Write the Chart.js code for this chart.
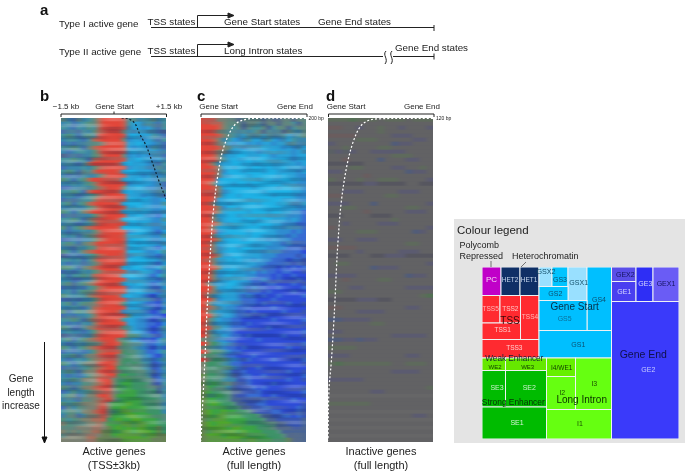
<!DOCTYPE html>
<html>
<head>
<meta charset="utf-8">
<title>Chromatin states</title>
<script src="https://cdn.jsdelivr.net/npm/chart.js@4"></script>
<style>
html, body { margin: 0; padding: 0; background: #fff; }
body { position: relative; width: 685px; height: 471px; overflow: hidden; font-family: "Liberation Sans", Arial, sans-serif; color: #222; }
canvas, svg { position: absolute; }
.heat { filter: url(#streak); }
.fine { filter: url(#fineStreak); }
.t { position: absolute; white-space: nowrap; line-height: 1; }
#box { position: absolute; left: 454px; top: 219px; width: 231px; height: 224px; background: #e4e4e4; }
</style>
</head>
<body>
<svg width="0" height="0" style="left:0;top:0">
  <filter id="streak" x="0" y="0" width="100%" height="100%" color-interpolation-filters="sRGB">
    <feGaussianBlur in="SourceGraphic" stdDeviation="2.2 0.4" result="soft" />
    <feMerge>
      <feMergeNode in="SourceGraphic" />
      <feMergeNode in="soft" />
    </feMerge>
  </filter>
  <filter id="fineStreak" x="0" y="0" width="100%" height="100%" color-interpolation-filters="sRGB">
    <feGaussianBlur in="SourceGraphic" stdDeviation="7 0.3" />
  </filter>
</svg>
<div id="box"></div>
<canvas id="heatB" class="heat" width="105" height="324" style="left:61px;top:118px"></canvas>
<canvas id="heatC" class="heat" width="105" height="324" style="left:201px;top:118px"></canvas>
<canvas id="heatD" class="heat" width="105" height="324" style="left:328px;top:118px"></canvas>
<canvas id="streakB" class="fine" width="105" height="324" style="left:61px;top:118px"></canvas>
<canvas id="streakC" class="fine" width="105" height="324" style="left:201px;top:118px"></canvas>
<canvas id="curveB" width="105" height="324" style="left:61px;top:118px"></canvas>
<canvas id="curveC" width="105" height="324" style="left:201px;top:118px"></canvas>
<canvas id="curveD" width="105" height="324" style="left:328px;top:118px"></canvas>
<canvas id="legendMap" width="197" height="172" style="left:482px;top:267px"></canvas>
<svg width="685" height="471" style="left:0;top:0" fill="none" stroke="#222" stroke-width="1">
  <path d="M151 27.5H434M434 25V31M197.5 27.5V15.5H228" />
  <path d="M228 13L234 15.5L228 18Z" fill="#222" />
  <path d="M151 56.5H383M393 56.5H434M434 53.5V59.5M197.5 56.5V44.5H228" />
  <path d="M228 42L234 44.5L228 47Z" fill="#222" />
  <path d="M386 51C382 55 389 59 385 64M392 51C388 55 395 59 391 64" />
  <path d="M61 117V114H166.5V117M114 114V111.5" />
  <path d="M201 117V114H307V117" />
  <path d="M328.5 117V114H434V117" />
  <path d="M44.5 342V438" stroke="#111" />
  <path d="M42 437H47L44.5 443Z" fill="#111" stroke="#111" />
  <path d="M491 261V267M526 262L521 267" stroke="#444" stroke-width="0.7" />
</svg>
<script>
// state letters used by the heatmap rows
var stateColours = {
    A: '#3a86ac', B: '#46939f', C: '#54917f', D: '#5f8a80', E: '#4472b4', L: '#486496',
    R: '#e2463a', S: '#cf5a4a', T: '#a8705c', U: '#7f8470',
    F: '#1eb2e6', G: '#28a2d8', H: '#2f8cd0', I: '#386cd2', J: '#2e4cd8', K: '#3856b4',
    M: '#3c9468', N: '#3aa444', O: '#4fa62c', P: '#66864c',
    a: '#626264', b: '#5b5b70', c: '#5e6a5c', d: '#6a5d5e', e: '#56565f', f: '#666667', g: '#505c7a', h: '#527054', i: '#5a6064',
    // fine streak layer: darker, lighter, duller, none
    x: 'rgba(10,20,60,0.22)', o: 'rgba(255,255,255,0.2)', z: 'rgba(110,120,120,0.34)', '.': 'rgba(0,0,0,0)'
};

// b: active genes, TSS +-3kb
var rowsB = [
"DAEDABDTRRRRSBDABBDAB","ABEABCDTRRRRSBGGABAEB","BAEBACBTRRRRSAGGHGAEB","EAAEBACTSRRRUGHGGAAEL","BCBEBCBSRRRRSGFGGGBAE",
"ABBAEBTSRRRRUHGGHGAEB","EAEAABCDTRRRSGGFGGHAE","BBCBEDTSRRRRSGHGGHBAE","AEABBACTRRRRSGFGGGGHA","LEAEAACUSRRRUHGHGHAAE",
"BBCBBETSRRRRSGGFGGHGA","ABAEBTRRRRRSGFGGGHAEB","EAAABACTSRRRSHGGGHHBA","BCBEDBTRRRRSGFFGGGHAB","AEAEBAADTRRRSGGGHGAHA",
"CBEBCTRRRRRSGFGFGGHAB","AABABCUSRRRRSHGGGGHAE","EEAABACTSRRRUGGFGHHAE","BBCBETRRRRRSGFGGGGHAB","ABAEABCTSRRRSGGGHGHAE",
"EAEABBUSRRRRSFFGFGHHG","BCEBCTSRRRRSGFFFGGHHB","AABAACUSRRRRSFGFGGHHG","CBEBUTRRRRRSGFFGFGHHA","EAEAAACTSRRRSGGFGHHIG",
"BBCBEDTSRRRSFFFGGGHHB","ABAEABUSRRRRSGFGFGHHG","CEBCUTSRRRRSFFFFGGHHA","AEAABACTRRRRSHGFFGHIG","BABEBCUSRRRRSFFFGGHHB",
"EEAEAACTSRRRSGFFFGHHG","BCBEDUTRRRRRSFFGFGGHA","AAEBACDSRRRRSGFFGGHIG","CBEBUTSRRRRRSFFFGHHGB","LEAEABCTSRRRSHGFGHHIA",
"BBABEBUSRRRRSFFFFGGHA","AEAAEACTRRRRSGGFFGHIG","CCBEDUTSRRRSFGFFGHHGB","EAEABACUSRRRSGHGFGHIA","BEBBCBTSRRRSGFFGGHIGB",
"AAEEAAUSRRRRSGGGGHHIA","BCEBCUTRRRRSGFGFGHIHA","EAEAEBCTSRRRSHGGGHIIG","ABEBCDUSRRRRSGGFGHHIA","CBABBUTSRRRSGFGGHIJHA",
"EEAEAACTRRRRSHGGGHIJH","BCEBCDUSRRRSCGFGHIIJA","AABAEBTSRRRRSGGGHHIJH","CEBCBUTRRRRSHGGGHIJIB","EAEAABUSRRRRSCGGHHIIJ",
"BBCBEDTSRRRSBGGHHIJIA","AEAEBAUSRRRRSGGHHIIJH","CBEEBUTRRRRSCBGHHIJIB","ABAAEACTSRRRSBGGHIJIA","LEAEAAUSRRRRSCCBHHIJH",
"BCEBCUTSRRRUCBGHIIJHB","AEABACDUSRRSMCBBHIIHA","CBEBCUTSRRRUCCBAHIJHI","EAEAEACTSRRSMCCBAIIHB","BBCEBUUSRRRUCMCBAHIJA",
"AEABACUTSRRUMMCCAAIHB","CBEBDUUSRRSUMCMCBAKIA","EAEABCUTSRRMMMCCBAKIB","BCBEDUUSRRSUMMMCCALIA","AEAEACUTSRRMNMMCCBKIB",
"BBCBUUUSRRUMMNMMCCLIA","AEAACDUTSRUMNNMMMCLKB","CBEBUUTSRRUNMNMMMCCLA","EACABCUTSRUMNNNMMCMLB","BCDEBUUSRSUNNNNMMMCCA",
"ABAECDUTSRUMNNNNMMMCB","CBCDUUUTSUNNNONNMMMCA","EDACDUUSRUNNONNNNMMCB","BCDBUUTSRUMNOONNNMMMA","ACDEBUUTSUNNNOONNNMMC",
"CBCDUUTTSMNONNOONNNMC","UCDDDUUTUNNNOONOONNMM","DCDUUUTTUPNONONOONNPM","UDUDUUTTPPNNOONOOONPM","DUUUUTTUPPNOOOOONOOPP",
"UUUUUTTPPPPPOOOOOOPPP"
];

// c: active genes, full length
var rowsC = [
"RRRUUDDLDDDDLDLLDDLDD","RRSSUDDDLDDBLDDLDDBLD","RRRSUDBDLDBBDLBDDLBDD","RRSUDBBABABDLBABLDBAD","RRRSUDBAGBABGBAABGABD",
"RRSUABGHABGGABGHAGBAA","RRSUDGHGGHGHGGHGGABHA","RRRSUDGGHGGGFGGGHGHAG","RRSUUAGGFGGHGGFGGGHGA","RRSUAGGFFGGGFGHGGGHGG",
"RRRUBGFGGFGFFGGGFGHGG","RSUAGGFFGFGGFFGGGGGHG","RRSUGFGFFGFFGFGGFGGGH","RRRUHFFFGFFFGFFGGGGHG","RRSUGGFFFGFFFFFGFGGHH",
"RRSGFFFFFFFGFFGGFFGGH","RSUGFFGFFGFFFFFFGGGHH","RRSUGFFFFFGFFFFGFFGGH","RRRUHGFFFFFFGFFFFFGGH","RRSUGFFGFFFFFFGFFFGHH",
"RRSGGFFFFGFFFFFFGGGHH","RSUGFGFFFFFGFFFGFGHHG","RRSUHFFGFFFFFFFFGGGHH","RRSUGFFFFGFFFGFFGGHHI","RRUGGFFGFFFFFGGGGHHHI",
"RRUAGFFFGFFGFFGGGHGHI","RRSUGGFFFFGFFFGGHHHII","RSUGFFGFFFFFGFGGHGHHI","RRSHGFFFFGFFFGGHHHIHI","RRUGFGFFFGFFGGGHHIHII",
"RRSUGFFFGFFGGHGHHHIII","RSUGGFFFFFGGGGHHIHIII","RRUHGFFGFFGGGHHHHIIIK","RRUAGFFFFGGGHGHHIIIIJ","RRSUGGFFGGGGHHHIIIIKI",
"RSUGGFGFGGHGHHIIIJIIK","RRUAGFFFGGGHHIIIIIJIK","RRSUGGFGGGHHIIIJIJIJI","RRUGGFFGGHGIHIIJIIJJK","RSUHGFGGGHHIIIJIJJIJJ",
"RRUAGGFGGHIIHIJIJJJIJ","RUAGGFFGHHIIJIIJJJIJK","RRUGGFGGHIHIIJJIJJJJI","RSUAGGGHHIIIJIJJJJIJJ","RUAGFGGHIHIJIJJIJJJJI",
"RRUHGGGHIIIJJJIJJJJJJ","RUAGGGHHIIIJIJJJJIJJK","RSUAGHHIIIJJJJIJJJJJJ","RUBGGGHIIJIJJJJJIJJJK","RRDAGGHIIIJJIJJJJJJJJ",
"RUBGHHIIJJJJJJIJJJJJI","RUAGGHIIJIJJJJJJJJJJK","RRDBGHIIIJJJJIJJJJJJJ","RUAGHHIJJJJJJJJJJJJJI","RUBAGHIIJIJJJJJJIJJJK",
"UDBHHIIJJJJIJJJJJJJJJ","RUMBGHIJJJJJJJJJJJJJI","UCBAHIIJIJJJJJJJJIJJK","RUMCBHIIJJJJJJJJJJJJJ","UMCBAIIJJJIJJJJJJJJJK",
"RUMMCAHIKIJJJJIJJJJJI","UMMCBAIIJJJJJJJJJJJJK","UMCMCCAIKJJIJJJJJJJJJ","UMMCBAKKIJJJJJJJJIJJK","PMMCCALKIIJJIJJJJJJJI",
"UMCCBAAKKIJJJJJJJIJJK","PMNMCCLKKIJJJJIJJJJJJ","UNMCCALKKKIJIJJJJJJJK","PNMMCCLLKKKIJJJJJJJJI","PMMNMCLKKIIIJJIJJJJJK",
"PNNMMCLLKKKKIJJJJJIJJ","PNONMMCLLKKIIJJJJJJJK","PNNNNMMCLLKKIIJJJJJIK","PONNONNMMCLKKKIIJJJIK","PONOONNNMMMCLLKKIIJIK",
"PNOOONNNNMMMCLLKKKKKL","PONOOONNNMMMMCCLLKKKL","POOOONOONNNMMMCLLLKKL","PNOOOOONONNNMMMCLLLLL","POOONOOOONNNNMMMCLLLL",
"POOOOOOONOONNNMMMPLLL"
];

// d: inactive genes, full length
var rowsD = [
"ccchcccacccaccc","aaaaaaaaaaaaaaa","ddaabaacaabaaab","aaaaaaacaaaaaaa","ddddaaaaabbbaaa","aaaacccaaaaabba",
"baaaaaaaagbbaaa","aacaaaaccaaaaaa","ibibaabbbbbaaaa","aaaaaaaaacccaaa","aadaaaagaaabbaa","eeeeeaaaaaaaaaa",
"aaaccaaaabbaaca","bbaaaaaaaaagbba","aaaaadaaaaaaaaa","caaacaacccaaaab","eeeeebbeeeeaaee","aaaaaaaaaaaaaaa",
"aabbbaaaaabbbaa","ddaaaaaaccaaaaa","aaaaaaaaaaaaaaa","bbbaaagaaaaaaab","aaccaaaaaaaccaa","aaaaadaaaaabbba",
"eeaaaaeeeaaaaaa","aaaaaaaaacaaaaa","aabaaaabbbaaaaa","daaaaaaaaaaaaab","aaaacccaaaaagba","aaaaaaaaaaaaaaa",
"bbaabbbaaaaaaaa","aaaaaaaaaaaccaa","ddddaaaaaaaaaaa","aaaabaaaaabbbaa","eeeaaaeebbbeeee","aaaaaaaaaaaaaaa",
"accaaaaaaaaaaab","aaaaaagbbbaaaaa","aaaaaaaaaaaaaaa","bbbbaaaaaaagbba","aadaaaaccaaaaaa","aaaaaaaaaaaaaaa",
"aaabbaaaaaabbbb","ccaaaaaaaaaaaaa","aaaaaaaaaaaaach","eeeebbbeeaaaaaa","aaaaaaaaaaaaaaa","ddaaaaaaaaabbaa",
"aaaabbbbaaaaaaa","aaaaaaaaaaaaaaa","ggbbbbaaaaaaaaa","aaaaaaccaaaaaaa","aaaaaaaaaaaaaaa","bbaaaaaaaaaaaaa",
"aaaaaaaaabbbbba","ggbbgbbaaaaaaaa","aaaaaaaaaaaaaaa","ccccaaaaaaaaaaa","aaaaaaaaaaaaaaa","bbbaaaaaaaabbaa",
"aaaaaaaaaaaaaaa","chcccccccaaccca","aaaaaaaaaaaaaaa","aaaaaaaaabbbbaa","aaaaaaaaaaaaaaa","bbbbbaaaaaaaaaa",
"aaaaaaaaaaaaaaa","aaaaaaaaaaaaaac","aaaaaabbaaaaaaa","fffffffffffffff","aaaaaaaaaaaaaaa","ccccccaaaaaaaaa",
"aaaaaaaaaaaaaaa","fffffffffffffff","aaaaaaaaaaaabba","fffffffffffffff","aaaaaaaaaaaaaaa","fffffffffffffff",
"aaaaaaaaaaaaaaa","fffffffffffffff","aaaaaaaaaaaaaaa"
];

// finer streaks laid over b and c
var streakRowsB = [
"x.o.x",".....","oo..z","..x..","z.xzx",".o...","xx.xo",".....",".zo..","x...x","o.oo.","..xxz",
"z....",".xz.o","o...x","xxx..","..o.z",".....","xz.xx","o.o..","..z.o","x.xx.",".....","oz.oo",
"..x.z","xx..x",".oo..","z.zx.",".....","x.x.o","oo.z.","..xxx","z...o",".x.o.","o.z..","xx.xz",
".....","..oo.","xz..x",".x.z.","oo..o","...xx","z.z..","x.oxo",".....","o..z.","xxz.x","..o..",
".z.xx","o.x.o",".....","x.zz.","..oo.","xx..x",".o.z.","z.x.o","x...x","..ooz",".xz..","o...x",
"xx.zz","..o..",".z.xo","x...x","oo.z.","..xx.","z.o.o",".x..x",".....","ozx..","x.z.x","..oo.",
"zx..z","o..x.",".z.oo","xx.z.","..x.x","o.z..",".....","xzxo.","..z.x","oo...",".x.zx","z..o.",
"x.xz.",".o..x","..zz.","xo.xo",".....","z.x.z","x.o..",".xz.x","o...o","zz.x.","..x.z","x.o.x",
".z..o","o.xz.","..x..","zx.oz",".....","x.zxo",".o.z.","zz..x","..xo.","xz.zx","o.z.z","zzxzz"
];
var streakRowsC = [
"zzxzz","z.zz.","..x.z",".....","xz.zx","..zzo","z.xx.",".....","xo..z",".zz.x","..o..","xx.z.",
".....","o.o.x","x..z.","..xx.",".o..o","z.x.x",".....","xo.o.","..z.x","o..x.",".xx.z","...oo",
"z.o..","x..xx",".....",".oz.o","xx..z","..o.x",".z.x.","o...o","x.zz.",".....","..xo.","oz..x",
".x.xz","o.o..",".....","xz.x.","..oo.","x...z",".ox.x","z...o","..xz.","xo...",".....","z.o.x",
".x..z","oo.x.","..z.o","xx...",".....",".zo.x","x..zz","o.x..","..oo.",".xz.x","z...o","x.x..",
".....","oz.z.","..x.x","z.oo.",".x...","o.zxz","..x.o",".....","xx.o.","z..xz",".oz..","x...o",
"..xx.","zo..x",".....",".z.oz","x.x..","o..zx",".xo..","z...z","xx.ox",".....","..z.o","ox.x.",
"z..z.",".x..x","o.oz.",".....","xz.x.","..o.o","zx..z",".o.x.","x...x","..zz.","o.x.o",".....",
"zx.z.","..o.x",".z..z","xo.x.","z....","..xzo",".z.x.","x..zz","zo...",".xz.z","z.x.z","zzzzz"
];

// gene length curves, x as % of panel width, y as % of panel height
var curveBX = [57.7, 64, 70.2, 75, 81.2, 87.5, 93.7, 100];
var curveBY = [0, 0.2, 1.6, 5, 8.6, 14.2, 19.8, 25];
var curveCX = [100, 52.7, 43.2, 33.8, 27.4, 21.1, 16.4, 11.7, 8.5, 7.6, 5.4, 3.8, 1.6, 0];
var curveCY = [0.1, 0.1, 0.4, 1.6, 4.5, 9.6, 16.8, 29, 43.4, 48.5, 61.8, 74, 88.3, 99.5];
var curveDX = [100, 45.7, 36.3, 30, 23.7, 18, 12.6, 9.5, 7.9, 6.9, 5.4, 3.2, 0.9, 0];
var curveDY = [0.1, 0.3, 1.1, 3, 7.6, 14.7, 26, 38.2, 47.4, 54.6, 63.8, 75, 84.2, 99.5];

// colour legend treemap cells
var cellNames  = ['PC','HET2','HET1','TSS5','TSS2','TSS4','TSS1','TSS3','GSX2','GS3','GSX1','GS2','GS4','GS5','GS1','GEX2','GE1','GE3','GEX1','GE2','WE2','WE3','I4/WE1','I3','I2','I1','SE3','SE2','SE1'];
var cellLeft   = [0,19,38,0,18,38.5,0,0,57,70,86,57,105,57,57,129.5,129.5,154,171,129.5,0,23.5,64.5,93.5,64.5,64.5,0,23.5,0];
var cellRight  = [19,38,57,18,38.5,57,38.5,57,70,86,105,86,129.5,105,129.5,154,154,171,197,197,23.5,64.5,93.5,129.5,93.5,129.5,23.5,64.5,64.5];
var cellTop    = [0,0,0,28.5,28.5,28.5,56,72.5,0,0,0,19.5,0,33.5,63.5,0,14.5,0,0,34.5,91,91,91,91,109.5,142.5,103.5,103.5,140];
var cellBottom = [28.5,28.5,28.5,56,56,72.5,72.5,91,19.5,19.5,33.5,33.5,63.5,63.5,91,14.5,34.5,34.5,34.5,172,103.5,103.5,109.5,142.5,142.5,172,140,140,172];
var cellColours = ['#c000c8','#0f2f66','#0f2f66','#ff2a30','#ff2a30','#ff2a30','#ff2a30','#ff2a30','#99e0ff','#00c4ff','#99e0ff','#00c4ff','#00bfff','#00bfff','#00bfff','#5a4ee8','#4a3ff0','#2e2ef5','#6a5cf5','#3a3afa','#66e800','#66e800','#66f000','#66ff11','#66ff11','#66ff11','#00bb00','#00bb00','#00bb00'];

Chart.defaults.animation = false;
Chart.defaults.responsive = false;
Chart.defaults.devicePixelRatio = 1;
Chart.defaults.plugins.legend.display = false;
Chart.defaults.plugins.tooltip.enabled = false;

function drawHeatmap(id, rows) {
    var datasets = [];
    for (var c = 0; c < rows[0].length; c++) {
        datasets.push({
            data: rows.map(function() { return 1; }),
            backgroundColor: rows.map(function(row) { return stateColours[row[c] || row[row.length - 1]]; }),
            borderWidth: 0,
            barPercentage: 1,
            categoryPercentage: 1
        });
    }
    new Chart(document.getElementById(id), {
        type: 'bar',
        data: { labels: rows.map(function(row, i) { return i; }), datasets: datasets },
        options: {
            indexAxis: 'y',
            scales: {
                x: { display: false, stacked: true, min: 0, max: rows[0].length },
                y: { display: false, stacked: true }
            }
        }
    });
}

function drawCurve(id, xs, ys, colour) {
    new Chart(document.getElementById(id), {
        type: 'scatter',
        data: {
            datasets: [{
                data: xs.map(function(x, i) { return { x: x, y: ys[i] }; }),
                showLine: true,
                borderColor: colour,
                borderWidth: 1.2,
                borderDash: [2, 2],
                pointRadius: 0,
                tension: 0.35,
                clip: false
            }]
        },
        options: {
            scales: {
                x: { display: false, min: 0, max: 100 },
                y: { display: false, min: 0, max: 100, reverse: true }
            }
        }
    });
}

var cellPlugin = {
    id: 'cellPlugin',
    afterDatasetsDraw: function(chart) {
        var ctx = chart.ctx, x = chart.scales.x, y = chart.scales.y;
        cellNames.forEach(function(name, i) {
            var x0 = x.getPixelForValue(cellLeft[i]), x1 = x.getPixelForValue(cellRight[i]);
            var y0 = y.getPixelForValue(cellTop[i]), y1 = y.getPixelForValue(cellBottom[i]);
            ctx.fillStyle = cellColours[i];
            ctx.fillRect(x0, y0, x1 - x0, y1 - y0);
            ctx.strokeStyle = '#eef2f4';
            ctx.lineWidth = 1;
            ctx.strokeRect(x0, y0, x1 - x0, y1 - y0);
        });
    }
};

function drawLegendMap() {
    new Chart(document.getElementById('legendMap'), {
        type: 'scatter',
        data: {
            datasets: [{
                data: cellNames.map(function(name, i) { return { x: cellLeft[i], y: cellTop[i] }; }),
                pointRadius: 0
            }]
        },
        options: {
            scales: {
                x: { display: false, min: 0, max: 197 },
                y: { display: false, min: 0, max: 172, reverse: true }
            }
        },
        plugins: [cellPlugin]
    });
}

drawHeatmap('heatB', rowsB);
drawHeatmap('heatC', rowsC);
drawHeatmap('heatD', rowsD);
drawHeatmap('streakB', streakRowsB);
drawHeatmap('streakC', streakRowsC);
drawCurve('curveB', curveBX, curveBY, '#10202c');
drawCurve('curveC', curveCX, curveCY, '#ffffff');
drawCurve('curveD', curveDX, curveDY, '#ffffff');
drawLegendMap();

// text, align is l, c or r
function put(text, x, y, size, align, colour, bold) {
    var el = document.createElement('div');
    el.className = 't';
    el.textContent = text;
    el.style.left = x + 'px';
    el.style.top = y + 'px';
    el.style.fontSize = size + 'px';
    if (colour) el.style.color = colour;
    if (bold) el.style.fontWeight = 'bold';
    var dx = align === 'c' ? '-50%' : align === 'r' ? '-100%' : '0';
    el.style.transform = 'translate(' + dx + ',-50%)';
    document.body.appendChild(el);
}

put('a', 40, 9, 15, 'l', '#111', true);
put('b', 40, 95, 15, 'l', '#111', true);
put('c', 197, 95, 15, 'l', '#111', true);
put('d', 326, 95, 15, 'l', '#111', true);

put('Type I active gene', 59, 24, 9.8, 'l');
put('TSS states', 147.5, 22.3, 9.8, 'l');
put('Gene Start states', 224, 22.3, 9.8, 'l');
put('Gene End states', 318, 22.3, 9.8, 'l');
put('Type II active gene', 59, 51.5, 9.8, 'l');
put('TSS states', 147.5, 51, 9.8, 'l');
put('Long Intron states', 224, 51, 9.8, 'l');
put('Gene End states', 395, 47.5, 9.8, 'l');

put('\u22121.5 kb', 66, 106.5, 8, 'c');
put('Gene Start', 114.5, 106.5, 8, 'c');
put('+1.5 kb', 169, 106.5, 8, 'c');
put('Gene Start', 199.3, 107, 8, 'l');
put('Gene End', 313, 107, 8, 'r');
put('200 bp', 308.5, 118, 5, 'l');
put('Gene Start', 326.7, 107, 8, 'l');
put('Gene End', 440, 107, 8, 'r');
put('120 bp', 436, 118, 5, 'l');

put('Gene', 21, 379, 10, 'c');
put('length', 21, 392.7, 10, 'c');
put('increase', 21, 406, 10, 'c');

put('Active genes', 114, 451, 11, 'c');
put('(TSS\u00b13kb)', 114, 465, 11, 'c');
put('Active genes', 254, 451, 11, 'c');
put('(full length)', 254, 465, 11, 'c');
put('Inactive genes', 381, 451, 11, 'c');
put('(full length)', 381, 465, 11, 'c');

put('Colour legend', 457, 230.7, 11.5, 'l');
put('Polycomb', 459.5, 244.7, 9, 'l');
put('Repressed', 459.5, 255.5, 9, 'l');
put('Heterochromatin', 512, 256, 9, 'l');

put('PC', 491.5, 279.7, 8, 'c', '#f6d8f6');
put('HET2', 510, 279.5, 6.5, 'c', '#c8d8ee');
put('HET1', 529, 280, 6.5, 'c', '#c8d8ee');
put('GSX2', 546, 272.3, 7.2, 'c', '#15506a');
put('GS3', 560, 279.3, 7, 'c', '#0b4f70');
put('GSX1', 578.7, 282, 7, 'c', '#15506a');
put('GS2', 555.3, 293.3, 7, 'c', '#0b4f70');
put('GS4', 599, 299, 7, 'c', '#0b4f70');
put('Gene Start', 574.7, 307, 10, 'c', '#06304a');
put('GS5', 564.7, 318, 7, 'c', '#0b6f9a');
put('GS1', 578.3, 344, 7, 'c', '#0b4f70');
put('GEX2', 625.3, 274, 7, 'c', '#151560');
put('GE1', 624.3, 291, 7, 'c', '#d8d8ff');
put('GE3', 645.3, 282.7, 7, 'c', '#d8d8ff');
put('GEX1', 666, 282.7, 7, 'c', '#151560');
put('Gene End', 643.3, 353.7, 10.5, 'c', '#10104a');
put('GE2', 648.3, 369, 7, 'c', '#c8ccff');
put('TSS5', 490.7, 309, 6.5, 'c', '#ffb8b8');
put('TSS2', 510.3, 308.7, 6.5, 'c', '#ffc8c8');
put('TSS4', 530, 316.7, 6.5, 'c', '#ffb8b8');
put('TSS', 510, 321.3, 10, 'c', '#3a0808');
put('TSS1', 502.7, 330.3, 6.5, 'c', '#ffd0d0');
put('TSS3', 514.3, 347.7, 6.5, 'c', '#ffd0d0');
put('Weak Enhancer', 514.3, 359.3, 8.2, 'c', '#123');
put('WE2', 495, 366.7, 6, 'c', '#124000');
put('WE3', 527.7, 366.7, 6, 'c', '#124000');
put('I4/WE1', 561.7, 367.7, 6.5, 'c', '#124000');
put('I3', 594.3, 383.3, 7, 'c', '#1a5000');
put('I2', 562.3, 392.3, 7, 'c', '#1a5000');
put('Long Intron', 581.7, 400.3, 10, 'c', '#0a3000');
put('I1', 580, 423, 7, 'c', '#1a5000');
put('SE3', 497, 387, 7, 'c', '#c8f0c8');
put('SE2', 529.3, 387, 7, 'c', '#c8f0c8');
put('Strong Enhancer', 513.3, 401.7, 8.4, 'c', '#063006');
put('SE1', 517, 422, 7, 'c', '#d8f4d8');
</script>
</body>
</html>
